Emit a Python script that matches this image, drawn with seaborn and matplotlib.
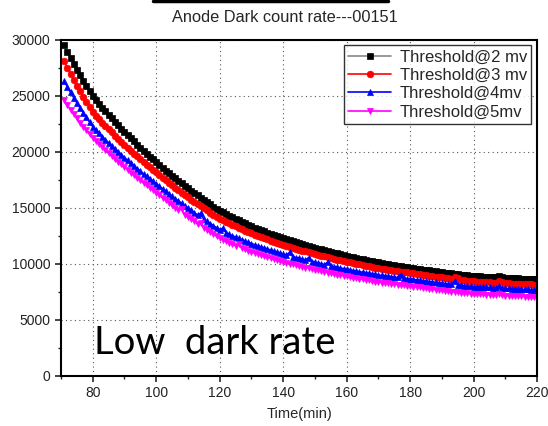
import numpy as np
import pandas as pd
import matplotlib
matplotlib.use("Agg")
import matplotlib.pyplot as plt
from matplotlib.ticker import MultipleLocator
import seaborn as sns

# -------- DATA (one point per minute) --------
time_min = np.arange(71, 221)

thr_2mv = [
    29500, 28930, 28380, 27850, 27330, 26830, 26340, 25860, 25390, 24930,
    24590, 24250, 23920, 23600, 23280, 22970, 22660, 22360, 22060, 21770,
    21480, 21190, 20910, 20630, 20350, 20080, 19820, 19560, 19300, 19050,
    18800, 18550, 18310, 18070, 17840, 17610, 17380, 17160, 16940, 16720,
    16510, 16300, 16090, 15890, 15690, 15490, 15290, 15100, 14910, 14720,
    14570, 14420, 14280, 14140, 14000, 13860, 13730, 13600, 13470, 13340,
    13230, 13110, 13000, 12890, 12780, 12670, 12570, 12460, 12360, 12260,
    12170, 12080, 11990, 11910, 11820, 11740, 11660, 11580, 11500, 11420,
    11350, 11270, 11200, 11120, 11050, 10980, 10910, 10840, 10770, 10710,
    10640, 10580, 10520, 10460, 10400, 10340, 10280, 10220, 10170, 10110,
    10060, 10010, 9960, 9920, 9870, 9830, 9780, 9740, 9700, 9650,
    9610, 9570, 9530, 9480, 9440, 9400, 9360, 9320, 9270, 9230,
    9200, 9160, 9130, 9090, 9060, 9030, 9000, 8960, 8930, 8900,
    8880, 8870, 8850, 8840, 8820, 8800, 8790, 8900, 8820, 8740,
    8730, 8710, 8700, 8680, 8670, 8660, 8640, 8630, 8610, 8600,
]

thr_3mv = [
    28050, 27490, 26940, 26420, 25900, 25410, 24920, 24450, 23980, 23530,
    23210, 22900, 22600, 22300, 22010, 21720, 21440, 21160, 20890, 20620,
    20360, 20090, 19830, 19580, 19330, 19080, 18840, 18610, 18380, 18150,
    17910, 17670, 17440, 17210, 16990, 16770, 16550, 16340, 16130, 15920,
    15720, 15520, 15320, 15130, 14940, 14750, 14560, 14380, 14200, 14020,
    13870, 13730, 13590, 13460, 13330, 13200, 13070, 12940, 12820, 12700,
    12590, 12480, 12370, 12260, 12160, 12060, 11950, 11850, 11760, 11660,
    11570, 11490, 11410, 11320, 11240, 11170, 11090, 11010, 10940, 10860,
    10790, 10720, 10650, 10580, 10510, 10440, 10370, 10310, 10240, 10180,
    10120, 10060, 10000, 9940, 9880, 9830, 9770, 9720, 9660, 9610,
    9560, 9520, 9470, 9430, 9390, 9340, 9300, 9260, 9220, 9180,
    9140, 9100, 9060, 9020, 8980, 8940, 8900, 8850, 8810, 8770,
    8740, 8700, 8660, 8830, 8700, 8560, 8520, 8490, 8450, 8420,
    8400, 8390, 8370, 8350, 8340, 8320, 8300, 8430, 8340, 8250,
    8240, 8230, 8210, 8200, 8190, 8180, 8170, 8150, 8140, 8130,
]

thr_4mv = [
    26300, 25790, 25290, 24820, 24350, 23910, 23480, 23050, 22640, 22230,
    21930, 21630, 21340, 21060, 20780, 20510, 20240, 19980, 19720, 19470,
    19220, 18970, 18730, 18490, 18250, 18020, 17800, 17580, 17360, 17150,
    16910, 16680, 16460, 16230, 16010, 15800, 15590, 15380, 15170, 14970,
    14760, 14560, 14360, 14500, 13960, 13770, 13580, 13390, 13200, 13020,
    13180, 12750, 12620, 12500, 12370, 12250, 12130, 12020, 11900, 11790,
    11690, 11590, 11490, 11400, 11310, 11210, 11120, 11030, 10950, 10860,
    10780, 11000, 10620, 10550, 10470, 10400, 10330, 10550, 10190, 10120,
    10050, 9990, 9920, 10150, 9790, 9730, 9670, 9610, 9550, 9490,
    9430, 9380, 9330, 9280, 9230, 9180, 9130, 9080, 9040, 8990,
    8950, 8910, 8870, 8840, 8800, 8770, 9030, 8700, 8670, 8630,
    8600, 8560, 8520, 8480, 8440, 8400, 8370, 8330, 8290, 8250,
    8220, 8190, 8160, 8450, 8100, 8070, 8040, 8020, 7990, 7960,
    7940, 7930, 7910, 7900, 7880, 7860, 7850, 8000, 7820, 7800,
    7790, 7770, 7760, 7740, 7730, 7710, 7700, 7680, 7670, 7650,
]

thr_5mv = [
    24600, 24160, 23750, 23350, 22960, 22600, 22240, 21890, 21560, 21230,
    20940, 20660, 20390, 20120, 19860, 19600, 19350, 19100, 18860, 18620,
    18380, 18130, 17890, 17660, 17430, 17200, 16980, 16770, 16560, 16350,
    16110, 15880, 15660, 15430, 15210, 15000, 14790, 14850, 14370, 14170,
    13970, 13770, 13570, 13650, 13190, 13000, 12810, 12630, 12450, 12270,
    12130, 12000, 11870, 11750, 11620, 11750, 11380, 11270, 11150, 11040,
    10950, 10850, 10760, 10670, 10580, 10490, 10410, 10320, 10240, 10160,
    10080, 10010, 9940, 9870, 9800, 9730, 9660, 9600, 9530, 9470,
    9410, 9340, 9280, 9210, 9150, 9090, 9030, 8970, 8910, 8860,
    8800, 8750, 8700, 8650, 8600, 8550, 8500, 8450, 8410, 8360,
    8320, 8280, 8240, 8210, 8170, 8140, 8100, 8070, 8040, 8000,
    7960, 7920, 7890, 7850, 7810, 7770, 7730, 7690, 7650, 7610,
    7580, 7550, 7510, 7480, 7450, 7420, 7390, 7360, 7330, 7300,
    7290, 7270, 7260, 7240, 7230, 7210, 7200, 7330, 7170, 7150,
    7140, 7120, 7110, 7100, 7090, 7070, 7060, 7050, 7030, 7020,
]

labels = ["Threshold@2 mv", "Threshold@3 mv", "Threshold@4mv", "Threshold@5mv"]
series = [thr_2mv, thr_3mv, thr_4mv, thr_5mv]
colors = ["black", "red", "blue", "magenta"]
line_colors = ["#888888", "red", "blue", "magenta"]
markers = ["s", "o", "^", "v"]

# -------- STYLE --------
sns.set_style("ticks")
plt.rcParams["font.family"] = ["Liberation Sans", "DejaVu Sans"]

fig = plt.figure(figsize=(5.48, 4.26), dpi=100)
ax = fig.add_axes([0.1113, 0.118, 0.869, 0.789])

for vals, lab, c, lc, m in zip(series, labels, colors, line_colors, markers):
    df = pd.DataFrame({"time": time_min, "rate": vals})
    sns.lineplot(data=df, x="time", y="rate", ax=ax, label=lab,
                 color=lc, linewidth=1.2, marker=m, markersize=4.8,
                 markerfacecolor=c, markeredgecolor=c, markeredgewidth=0.5)

ax.set_xlim(70, 220)
ax.set_ylim(0, 30000)
ax.xaxis.set_major_locator(MultipleLocator(20))
ax.xaxis.set_minor_locator(MultipleLocator(10))
ax.yaxis.set_major_locator(MultipleLocator(5000))
ax.yaxis.set_minor_locator(MultipleLocator(2500))
ax.set_xticks([80, 100, 120, 140, 160, 180, 200, 220])
ax.tick_params(axis="both", which="major", direction="out", length=4,
               width=1.2, labelsize=10, labelcolor="#222222")
ax.tick_params(axis="both", which="minor", direction="out", length=2.5, width=1)

ax.grid(True, which="major", linestyle=(0, (1, 3)), color="#555555", linewidth=0.8)
ax.set_axisbelow(True)
for s in ax.spines.values():
    s.set_linewidth(1.5)
    s.set_color("black")

ax.set_xlabel("Time(min)", fontsize=10.5, labelpad=5)
ax.set_ylabel("")

leg = ax.legend(loc="upper right", fontsize=12, frameon=True, fancybox=False,
                edgecolor="black", borderaxespad=0.35, labelspacing=0.2,
                handlelength=2.6, handletextpad=0.5, borderpad=0.25)
leg.get_frame().set_linewidth(1.0)

ax.text(80.5, 1900, "Low  dark rate", fontsize=27.5, family=["Lato", "DejaVu Sans"],
        color="black", va="baseline", ha="left")

fig.text(285 / 548, 1 - 17 / 426, "Anode Dark count rate---00151",
         ha="center", va="center", fontsize=11.8)
fig.add_artist(plt.Line2D([153 / 548, 388 / 548], [1 - 1.2 / 426] * 2,
                          color="black", linewidth=2.5, transform=fig.transFigure))

fig.savefig("out.png", dpi=100)
